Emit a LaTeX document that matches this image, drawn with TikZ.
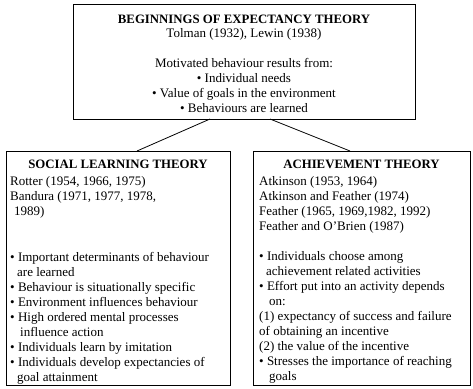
\documentclass[tikz,border=0pt]{standalone}
\usepackage{fontspec}
\setmainfont{Liberation Serif}
\usetikzlibrary{positioning}
\begin{document}
\begin{tikzpicture}[x=1pt,y=-1pt]
\tikzstyle{every node}=[font=\fontsize{13}{15}\selectfont, inner sep=0pt]
\tikzstyle{frame}=[draw, line width=0.9pt]
\tikzstyle{heading}=[font=\fontsize{12.8}{15}\selectfont\bfseries]
\tikzstyle{link}=[line width=0.8pt]

\useasboundingbox (0,0) rectangle (473,388);

% the three boxes
\node[frame, minimum width=342pt, minimum height=115pt] (origin) at (244,61.5) {};
\node[frame, minimum width=224pt, minimum height=234pt] (social) at (118,268) {};
\node[frame, minimum width=217pt, minimum height=234pt] (achieve) at (361.5,268) {};

% top box text
\node[heading, below=11pt of origin.north] (origintitle) {BEGINNINGS OF EXPECTANCY THEORY};
\node[below=5pt of origintitle, align=center] (origintext)
  {Tolman (1932), Lewin (1938)\\[15pt]
   Motivated behaviour results from:\\
   \textbullet\ Individual needs\\
   \textbullet\ Value of goals in the environment\\
   \textbullet\ Behaviours are learned};

% social learning theory
\node[heading, below=9pt of social.north] (socialtitle) {SOCIAL LEARNING THEORY};
\node[anchor=north west, align=left] (socialrefs) at (10,176)
  {Rotter (1954, 1966, 1975)\\
   Bandura (1971, 1977, 1978,\\
   \hspace{4pt}1989)};
\node[anchor=north west, align=left] (sociallist) at (10,252)
  {\textbullet\ Important determinants of behaviour\\
   \hspace{7pt}are learned\\
   \textbullet\ Behaviour is situationally specific\\
   \textbullet\ Environment influences behaviour\\
   \textbullet\ High ordered mental processes\\
   \hspace{10pt}influence action\\
   \textbullet\ Individuals learn by imitation\\
   \textbullet\ Individuals develop expectancies of\\
   \hspace{7pt}goal attainment};

% achievement theory
\node[heading, below=9pt of achieve.north] (achievetitle) {ACHIEVEMENT THEORY};
\node[anchor=north west, align=left] (achieverefs) at (259,176)
  {Atkinson (1953, 1964)\\
   Atkinson and Feather (1974)\\
   Feather (1965, 1969,1982, 1992)\\
   Feather and O'Brien (1987)};
\node[anchor=north west, align=left] (achievelist) at (259,251)
  {\textbullet\ Individuals choose among\\
   \hspace{7pt}achievement related activities\\
   \textbullet\ Effort put into an activity depends\\
   \hspace{10pt}on:\\
   (1) expectancy of success and failure\\
   of obtaining an incentive\\
   (2) the value of the incentive\\
   \textbullet\ Stresses the importance of reaching\\
   \hspace{10pt}goals};

% connectors
\coordinate (leftfoot) at (210,119);
\coordinate (rightfoot) at (270,119);
\coordinate (socialtop) at (137,151);
\coordinate (achievetop) at (350,151);
\draw[link] (leftfoot) -- (socialtop);
\draw[link] (rightfoot) -- (achievetop);

\end{tikzpicture}
\end{document}
